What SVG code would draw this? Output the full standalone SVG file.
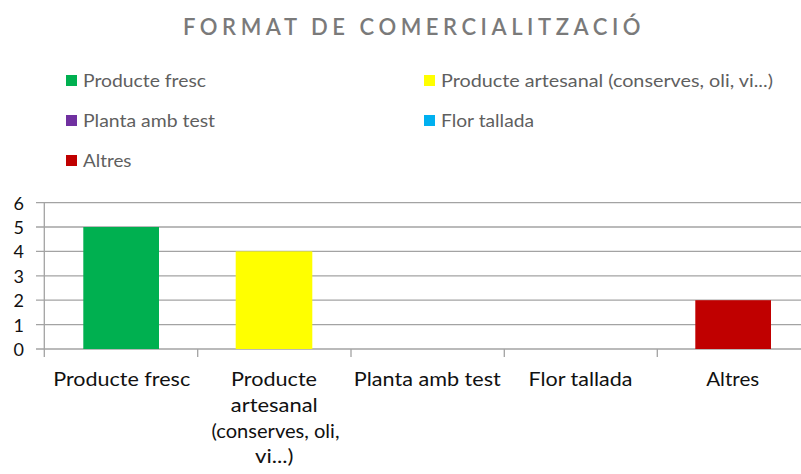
<svg xmlns="http://www.w3.org/2000/svg" width="801" height="474" viewBox="0 0 801 474">
<style>
  text { font-family: Lato, "Open Sans", "Liberation Sans", sans-serif; }
  .title { font-size: 22px; font-weight: 600; fill: #7a7a7a; letter-spacing: 2.5px; }
  .leg { font-size: 17px; fill: #5f5f5f; }
  .cat { font-size: 18.5px; fill: #111; text-anchor: middle; }
  .ylab { font-size: 18px; fill: #111; text-anchor: end; }
  .grid { stroke: #a3a3a3; stroke-width: 1.3; fill: none; }
</style>
<rect width="801" height="474" fill="#ffffff"/>
<g id="title">
  <text class="title" x="413" y="35" text-anchor="middle" textLength="460" lengthAdjust="spacing">FORMAT DE COMERCIALITZACIÓ</text>
</g>
<g id="legend">
  <g id="leg-fresc"><rect x="66" y="75" width="11" height="11" fill="#00b050"/><text class="leg" x="83" y="86.5" textLength="123" lengthAdjust="spacingAndGlyphs">Producte fresc</text></g>
  <g id="leg-artesanal"><rect x="424" y="75" width="11" height="11" fill="#ffff00"/><text class="leg" x="441" y="86.5" textLength="332" lengthAdjust="spacingAndGlyphs">Producte artesanal (conserves, oli, vi...)</text></g>
  <g id="leg-planta"><rect x="66" y="115" width="11" height="11" fill="#7030a0"/><text class="leg" x="83" y="126.5" textLength="132" lengthAdjust="spacingAndGlyphs">Planta amb test</text></g>
  <g id="leg-flor"><rect x="424" y="115" width="11" height="11" fill="#00b0f0"/><text class="leg" x="441" y="126.5" textLength="93" lengthAdjust="spacingAndGlyphs">Flor tallada</text></g>
  <g id="leg-altres"><rect x="66" y="155" width="11" height="11" fill="#c00000"/><text class="leg" x="83" y="166.5" textLength="48.5" lengthAdjust="spacingAndGlyphs">Altres</text></g>
</g>
<g id="gridlines">
  <line class="grid" x1="36" y1="202.6" x2="801" y2="202.6"/>
  <line class="grid" x1="36" y1="227" x2="801" y2="227"/>
  <line class="grid" x1="36" y1="251.4" x2="801" y2="251.4"/>
  <line class="grid" x1="36" y1="275.8" x2="801" y2="275.8"/>
  <line class="grid" x1="36" y1="300.2" x2="801" y2="300.2"/>
  <line class="grid" x1="36" y1="324.6" x2="801" y2="324.6"/>
  <line class="grid" x1="36" y1="349" x2="801" y2="349"/>
</g>
<g id="axes">
  <line class="grid" x1="44.3" y1="202.6" x2="44.3" y2="357"/>
  <line class="grid" x1="197.7" y1="349" x2="197.7" y2="357"/>
  <line class="grid" x1="351" y1="349" x2="351" y2="357"/>
  <line class="grid" x1="504.3" y1="349" x2="504.3" y2="357"/>
  <line class="grid" x1="657.3" y1="349" x2="657.3" y2="357"/>
</g>
<g id="y-labels">
  <text class="ylab" x="24" y="209.6">6</text>
  <text class="ylab" x="24" y="234">5</text>
  <text class="ylab" x="24" y="258.4">4</text>
  <text class="ylab" x="24" y="282.8">3</text>
  <text class="ylab" x="24" y="307.2">2</text>
  <text class="ylab" x="24" y="331.6">1</text>
  <text class="ylab" x="24" y="356">0</text>
</g>
<g id="bars">
  <rect id="bar-fresc" x="83.3" y="227" width="75.7" height="122" fill="#00b050"/>
  <rect id="bar-artesanal" x="235.7" y="251.4" width="76.6" height="97.6" fill="#ffff00"/>
  <rect id="bar-altres" x="695.3" y="300.2" width="75.7" height="48.8" fill="#c00000"/>
</g>
<g id="x-labels">
  <text class="cat" x="121.7" y="386" textLength="137" lengthAdjust="spacingAndGlyphs">Producte fresc</text>
  <text class="cat" x="274" y="386" textLength="86" lengthAdjust="spacingAndGlyphs">Producte</text>
  <text class="cat" x="274.3" y="412" textLength="87" lengthAdjust="spacingAndGlyphs">artesanal</text>
  <text class="cat" x="275.5" y="437.5" textLength="128" lengthAdjust="spacingAndGlyphs">(conserves, oli,</text>
  <text class="cat" x="274.2" y="462.5" textLength="38.5" lengthAdjust="spacingAndGlyphs">vi...)</text>
  <text class="cat" x="427.3" y="386" textLength="147" lengthAdjust="spacingAndGlyphs">Planta amb test</text>
  <text class="cat" x="580.5" y="386" textLength="104" lengthAdjust="spacingAndGlyphs">Flor tallada</text>
  <text class="cat" x="732.7" y="386" textLength="53" lengthAdjust="spacingAndGlyphs">Altres</text>
</g>
</svg>
